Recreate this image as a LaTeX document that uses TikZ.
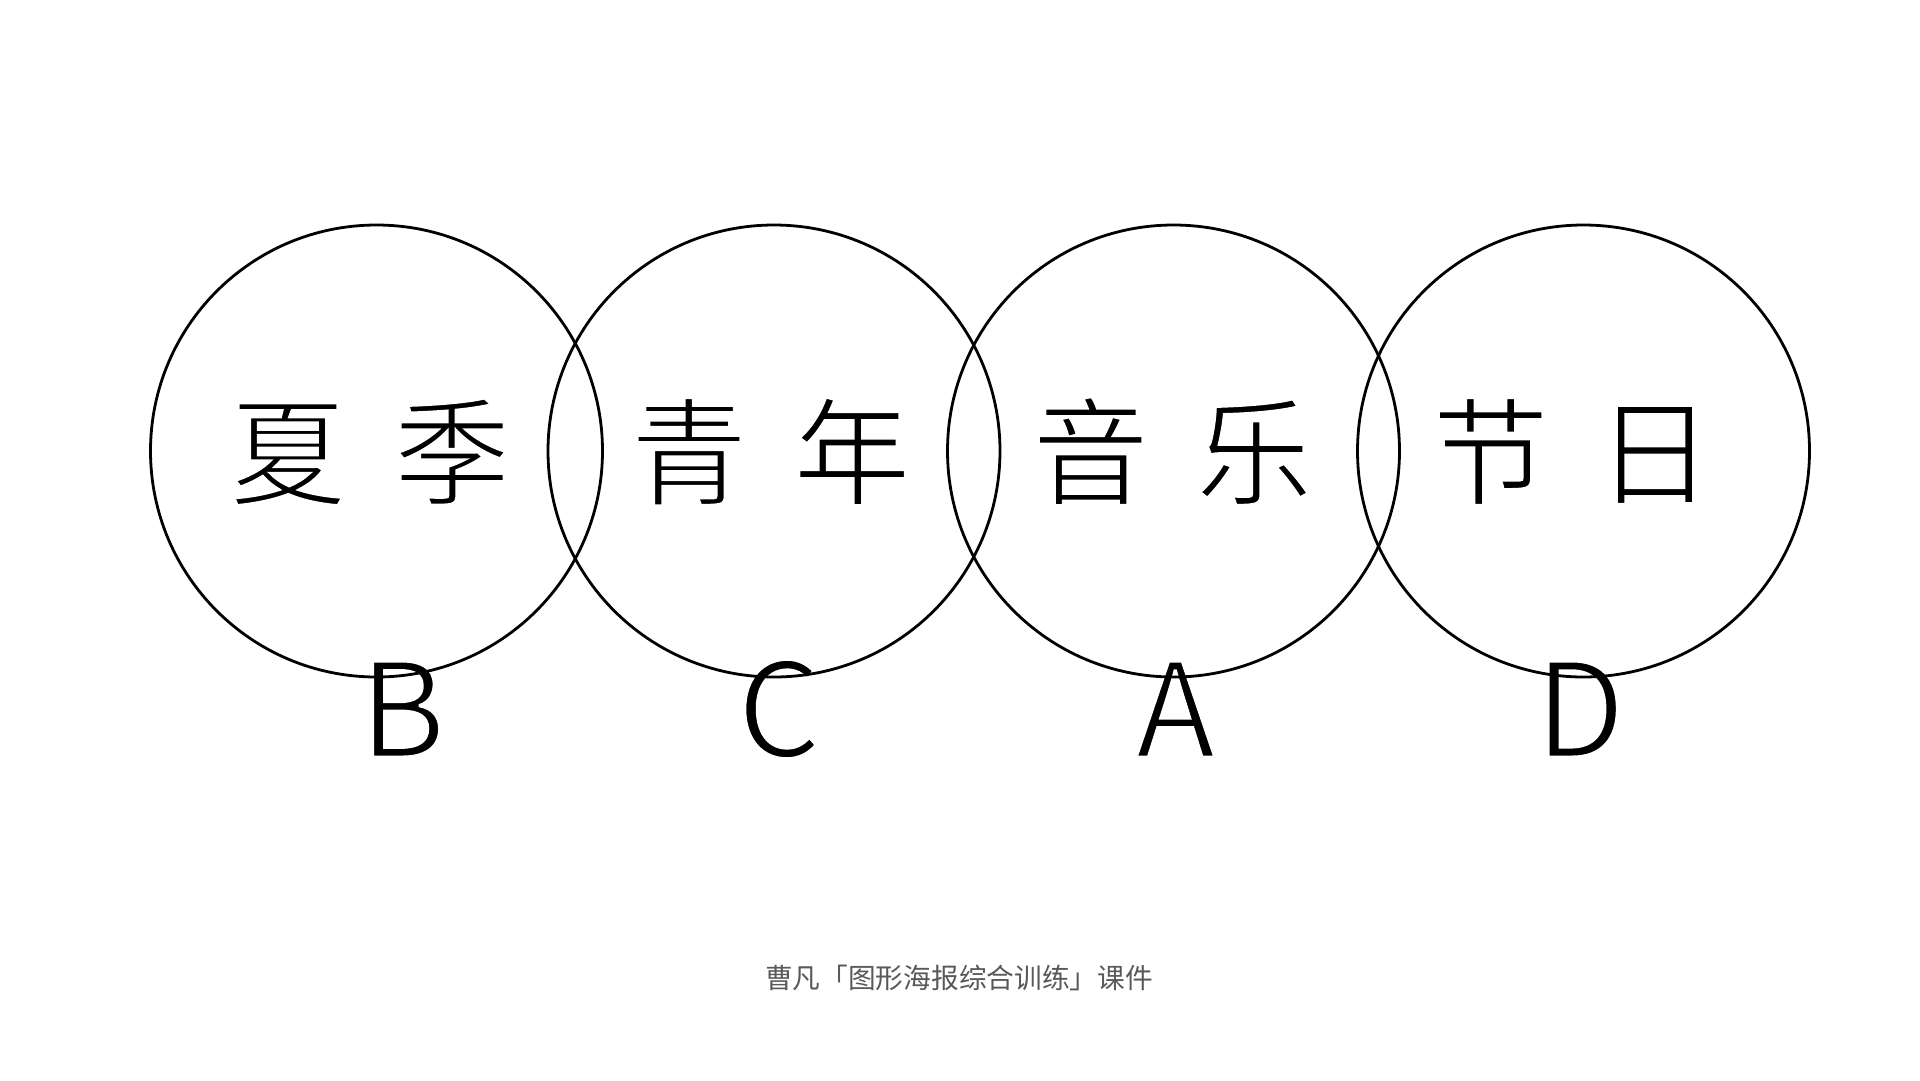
\documentclass[tikz,border=0pt]{standalone}
\usepackage{fontspec}
\setmainfont{Noto Sans CJK SC}
\newfontfamily\cjk{Noto Sans CJK SC}
\definecolor{captiongray}{HTML}{595959}
% thin the glyphs: fill, then stroke the outline in white
\newcommand{\thinglyph}[2]{\special{pdf:literal direct 2 Tr 1 1 1 RG #1 w 0 j}#2\special{pdf:literal direct 0 Tr 0 0 0 RG}}
\tikzset{
  ring/.style={circle, draw=black, line width=2.8pt, minimum size=452pt, inner sep=0pt},
  hanzi/.style={anchor=base, inner sep=0pt, font=\cjk\fontsize{117pt}{117pt}\selectfont},
  letter/.style={anchor=base, inner sep=0pt, font=\cjk\fontsize{131pt}{131pt}\selectfont},
  caption/.style={anchor=base, inner sep=0pt, text=captiongray, font=\cjk\fontsize{27.7pt}{28pt}\selectfont}
}
\begin{document}
\begin{tikzpicture}[x=1pt,y=-1pt]
\useasboundingbox[fill=white] (0,0) rectangle (1920,1080);
\node[hanzi] (h1a) at (288,496) {\thinglyph{2.6}{夏}};
\node[hanzi] (h1b) at (452,496) {\thinglyph{2.6}{季}};
\node[hanzi] (h2a) at (689,496) {\thinglyph{2.6}{青}};
\node[hanzi] (h2b) at (852,496) {\thinglyph{2.6}{年}};
\node[hanzi] (h3a) at (1090.5,496) {\thinglyph{2.6}{音}};
\node[hanzi] (h3b) at (1254,496) {\thinglyph{2.6}{乐}};
\node[hanzi] (h4a) at (1490.5,496) {\thinglyph{2.6}{节}};
\node[hanzi] (h4b) at (1654.5,496) {\thinglyph{2.6}{日}};
\node[letter] (lb) at (402.5,757) {\thinglyph{3}{B}};
\node[letter] (lc) at (779,757) {\thinglyph{3}{C}};
\node[letter] (la) at (1175.5,757) {\thinglyph{3}{A}};
\node[letter] (ld) at (1580,757) {\thinglyph{3}{D}};
\node[caption] (cap) at (959,988) {曹凡「图形海报综合训练」课件};
\node[ring] (c1) at (376.5,451) {};
\node[ring] (c2) at (774,451) {};
\node[ring] (c3) at (1173.5,451) {};
\node[ring] (c4) at (1583.5,451) {};
\end{tikzpicture}
\end{document}
